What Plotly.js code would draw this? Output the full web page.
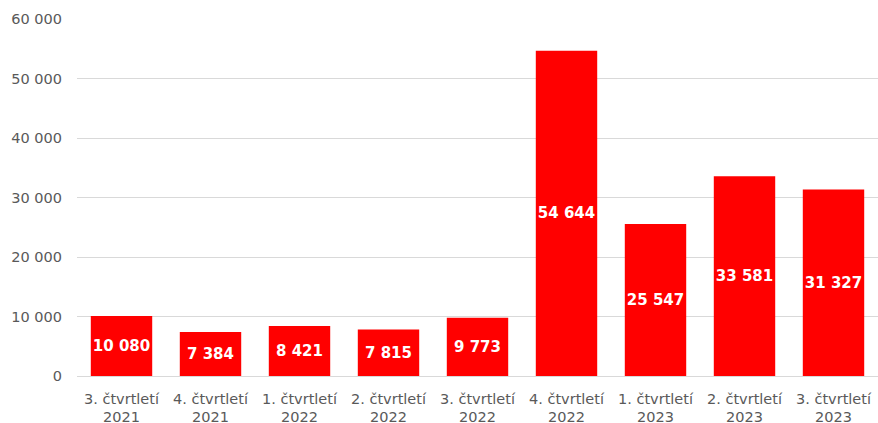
<!DOCTYPE html>
<html>
<head>
<meta charset="utf-8">
<script src="https://cdn.plot.ly/plotly-3.0.1.min.js"></script>
<style>html,body{margin:0;padding:0;background:#fff;}#chart{width:878px;height:423px;}</style>
</head>
<body>
<div id="chart"></div>
<script>
const categories = [
  "3. čtvrtletí<br>2021", "4. čtvrtletí<br>2021", "1. čtvrtletí<br>2022",
  "2. čtvrtletí<br>2022", "3. čtvrtletí<br>2022", "4. čtvrtletí<br>2022",
  "1. čtvrtletí<br>2023", "2. čtvrtletí<br>2023", "3. čtvrtletí<br>2023"
];
const values = [10080, 7384, 8421, 7815, 9773, 54644, 25547, 33581, 31327];
const yTicks = [0, 10000, 20000, 30000, 40000, 50000, 60000];

const trace = {
  type: "bar",
  x: categories,
  y: values,
  marker: {color: "#ff0000"},
  texttemplate: "%{y:,d}",
  textposition: "inside",
  insidetextanchor: "middle",
  constraintext: "none",
  textangle: 0,
  textfont: {family: "DejaVu Sans", size: 15, color: "#ffffff", weight: "bold"},
  hoverinfo: "skip"
};

const layout = {
  width: 878, height: 423,
  margin: {l: 77, r: 0, t: 19, b: 47},
  separators: ", ",
  paper_bgcolor: "#ffffff", plot_bgcolor: "#ffffff",
  showlegend: false,
  bargap: 0.31,
  xaxis: {
    type: "category",
    tickfont: {family: "DejaVu Sans", size: 14.5, color: "#595959"},
    showgrid: false, zeroline: false, showline: false, ticks: "",
    ticklabelstandoff: 12
  },
  yaxis: {
    range: [0, 60000],
    tickvals: yTicks,
    tickformat: ",d",
    tickfont: {family: "DejaVu Sans", size: 14.5, color: "#595959"},
    gridcolor: "#d9d9d9", gridwidth: 1,
    zeroline: true, zerolinecolor: "#d9d9d9", zerolinewidth: 1,
    showline: false, ticks: "",
    ticklabelstandoff: 14
  }
};

Plotly.newPlot("chart", [trace], layout, {staticPlot: true, displayModeBar: false});
</script>
</body>
</html>
